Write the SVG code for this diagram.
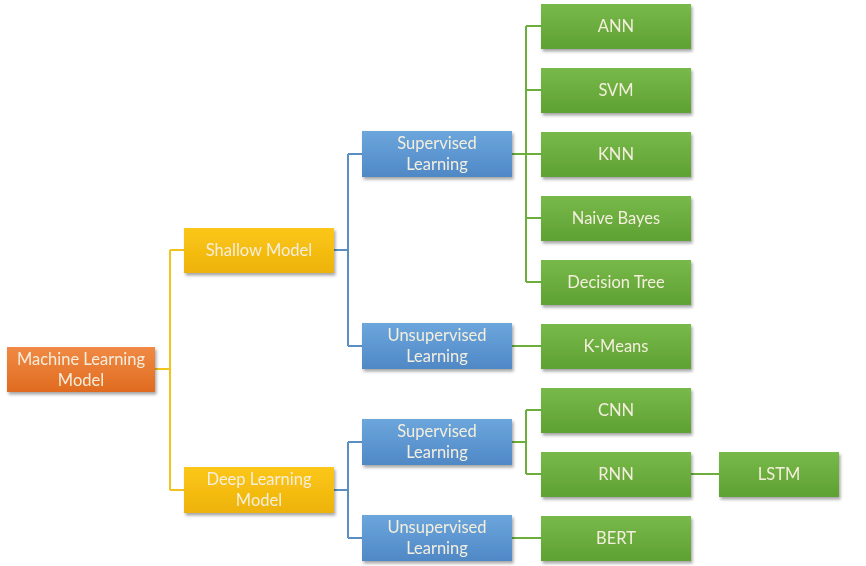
<svg xmlns="http://www.w3.org/2000/svg" width="866" height="566" viewBox="0 0 866 566">
<style>
.t{font-family:Lato,"Open Sans","Liberation Sans",sans-serif;font-size:16.5px;fill:#F4EEDD;text-anchor:middle;dominant-baseline:central}
.c{fill:none;stroke-width:2}
.y{stroke:#F2C21E}.b{stroke:#5A8FC2}.g{stroke:#6CAE3C}
</style>
<defs>
<filter id="sh" x="-10%" y="-20%" width="125%" height="150%"><feDropShadow dx="1.5" dy="2.5" stdDeviation="1.8" flood-color="#000" flood-opacity="0.35"/></filter>
<linearGradient id="go" x1="0" y1="0" x2="0" y2="1"><stop offset="0" stop-color="#F08A45"/><stop offset="1" stop-color="#E06B1F"/></linearGradient>
<linearGradient id="gy" x1="0" y1="0" x2="0" y2="1"><stop offset="0" stop-color="#FCC71A"/><stop offset="1" stop-color="#EDB208"/></linearGradient>
<linearGradient id="gb" x1="0" y1="0" x2="0" y2="1"><stop offset="0" stop-color="#6CA6DC"/><stop offset="1" stop-color="#4F88C6"/></linearGradient>
<linearGradient id="gg" x1="0" y1="0" x2="0" y2="1"><stop offset="0" stop-color="#78B94B"/><stop offset="1" stop-color="#5EA132"/></linearGradient>
</defs>
<rect width="866" height="566" fill="#fff"/>
<g id="connectors">
<path class="c y" d="M155 369H170M170 250V490M170 250H184M170 490H184"/>
<path class="c b" d="M334 250H348M348 154V346M348 154H362M348 346H362"/>
<path class="c b" d="M334 490H348M348 442V538M348 442H362M348 538H362"/>
<path class="c g" d="M512 154H526M526 26V282M526 26H541M526 90H541M526 154H541M526 218H541M526 282H541"/>
<path class="c g" d="M512 346H541"/>
<path class="c g" d="M512 442H526M526 410V474M526 410H541M526 474H541"/>
<path class="c g" d="M512 538H541"/>
<path class="c g" d="M691 474H719"/>
</g>
<g id="ml" filter="url(#sh)"><rect x="7" y="347" width="148" height="45" fill="url(#go)"/><text class="t" x="81" y="359">Machine Learning</text><text class="t" x="81" y="380">Model</text></g>
<g id="shallow" filter="url(#sh)"><rect x="184" y="228" width="150" height="45" fill="url(#gy)"/><text class="t" x="259" y="250">Shallow Model</text></g>
<g id="deep" filter="url(#sh)"><rect x="184" y="467" width="150" height="46" fill="url(#gy)"/><text class="t" x="259" y="479">Deep Learning</text><text class="t" x="259" y="500">Model</text></g>
<g id="sup1" filter="url(#sh)"><rect x="362" y="131" width="150" height="46" fill="url(#gb)"/><text class="t" x="437" y="143">Supervised</text><text class="t" x="437" y="164">Learning</text></g>
<g id="unsup1" filter="url(#sh)"><rect x="362" y="323" width="150" height="46" fill="url(#gb)"/><text class="t" x="437" y="335">Unsupervised</text><text class="t" x="437" y="356">Learning</text></g>
<g id="sup2" filter="url(#sh)"><rect x="362" y="419" width="150" height="46" fill="url(#gb)"/><text class="t" x="437" y="431">Supervised</text><text class="t" x="437" y="452">Learning</text></g>
<g id="unsup2" filter="url(#sh)"><rect x="362" y="515" width="150" height="46" fill="url(#gb)"/><text class="t" x="437" y="527">Unsupervised</text><text class="t" x="437" y="548">Learning</text></g>
<g id="ann" filter="url(#sh)"><rect x="541" y="4" width="150" height="45" fill="url(#gg)"/><text class="t" x="616" y="26">ANN</text></g>
<g id="svm" filter="url(#sh)"><rect x="541" y="68" width="150" height="45" fill="url(#gg)"/><text class="t" x="616" y="90">SVM</text></g>
<g id="knn" filter="url(#sh)"><rect x="541" y="132" width="150" height="45" fill="url(#gg)"/><text class="t" x="616" y="154">KNN</text></g>
<g id="nb" filter="url(#sh)"><rect x="541" y="196" width="150" height="45" fill="url(#gg)"/><text class="t" x="616" y="218">Naive Bayes</text></g>
<g id="dt" filter="url(#sh)"><rect x="541" y="260" width="150" height="45" fill="url(#gg)"/><text class="t" x="616" y="282">Decision Tree</text></g>
<g id="km" filter="url(#sh)"><rect x="541" y="324" width="150" height="45" fill="url(#gg)"/><text class="t" x="616" y="346">K-Means</text></g>
<g id="cnn" filter="url(#sh)"><rect x="541" y="388" width="150" height="45" fill="url(#gg)"/><text class="t" x="616" y="410">CNN</text></g>
<g id="rnn" filter="url(#sh)"><rect x="541" y="452" width="150" height="45" fill="url(#gg)"/><text class="t" x="616" y="474">RNN</text></g>
<g id="bert" filter="url(#sh)"><rect x="541" y="516" width="150" height="45" fill="url(#gg)"/><text class="t" x="616" y="538">BERT</text></g>
<g id="lstm" filter="url(#sh)"><rect x="719" y="452" width="120" height="45" fill="url(#gg)"/><text class="t" x="779" y="474">LSTM</text></g>
</svg>
